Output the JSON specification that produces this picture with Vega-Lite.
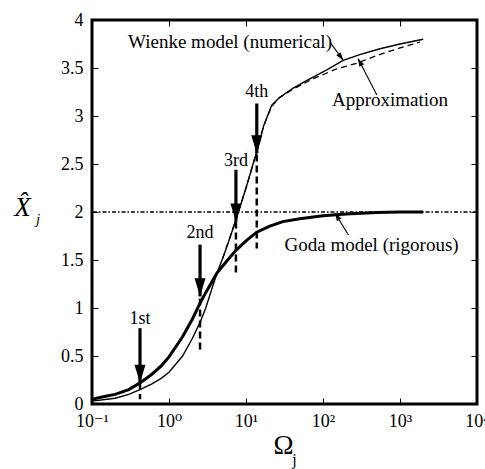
{
  "$schema": "https://vega.github.io/schema/vega-lite/v6.json",
  "width": 385,
  "height": 384,
  "autosize": {"type": "none"},
  "padding": {"left": 92, "top": 20, "right": 8, "bottom": 65},
  "background": "white",
  "config": {
    "view": {"stroke": "black", "strokeWidth": 3},
    "font": "'Liberation Serif', 'Times New Roman', 'DejaVu Serif', serif",
    "axis": {
      "domain": false, "grid": false, "ticks": true, "tickColor": "black", "tickSize": -6, "tickWidth": 1,
      "labelFont": "'Liberation Serif', 'Times New Roman', 'DejaVu Serif', serif", "labelFontSize": 18, "labelColor": "black",
      "titleFont": "'Liberation Serif', 'Times New Roman', 'DejaVu Serif', serif", "titleColor": "black", "titleFontWeight": "normal",
      "labelFlush": false, "labelOverlap": false
    }
  },
  "datasets": {
    "goda": [
      {"omega": 0.1, "val": 0.05}, {"omega": 0.15, "val": 0.08}, {"omega": 0.2, "val": 0.1},
      {"omega": 0.3, "val": 0.15}, {"omega": 0.42, "val": 0.22}, {"omega": 0.6, "val": 0.31},
      {"omega": 0.8, "val": 0.4}, {"omega": 1.0, "val": 0.49}, {"omega": 1.5, "val": 0.7},
      {"omega": 2.0, "val": 0.88}, {"omega": 2.53, "val": 1.05}, {"omega": 3.0, "val": 1.16},
      {"omega": 4.17, "val": 1.36}, {"omega": 5.0, "val": 1.44}, {"omega": 7.4, "val": 1.6},
      {"omega": 10, "val": 1.7}, {"omega": 13.8, "val": 1.79}, {"omega": 20, "val": 1.85},
      {"omega": 30, "val": 1.9}, {"omega": 50, "val": 1.93}, {"omega": 100, "val": 1.96},
      {"omega": 200, "val": 1.98}, {"omega": 500, "val": 1.995}, {"omega": 1000, "val": 2.0},
      {"omega": 2000, "val": 2.0}
    ],
    "wienke": [
      {"omega": 0.1, "val": 0.03}, {"omega": 0.2, "val": 0.06}, {"omega": 0.3, "val": 0.1},
      {"omega": 0.42, "val": 0.15}, {"omega": 0.6, "val": 0.21}, {"omega": 0.8, "val": 0.27},
      {"omega": 1.0, "val": 0.33}, {"omega": 1.5, "val": 0.5}, {"omega": 2.0, "val": 0.68},
      {"omega": 2.53, "val": 0.85}, {"omega": 3.0, "val": 1.0}, {"omega": 4.17, "val": 1.36},
      {"omega": 5.0, "val": 1.52}, {"omega": 6.0, "val": 1.7}, {"omega": 7.4, "val": 1.92},
      {"omega": 10, "val": 2.25}, {"omega": 13.8, "val": 2.63}, {"omega": 17, "val": 2.9},
      {"omega": 21.5, "val": 3.11}, {"omega": 27, "val": 3.19}, {"omega": 41, "val": 3.29},
      {"omega": 62, "val": 3.37}, {"omega": 112, "val": 3.48}, {"omega": 183, "val": 3.58},
      {"omega": 300, "val": 3.64}, {"omega": 550, "val": 3.7}, {"omega": 1000, "val": 3.75},
      {"omega": 2000, "val": 3.8}
    ],
    "approx": [
      {"omega": 5.0, "val": 1.52}, {"omega": 7.4, "val": 1.92}, {"omega": 10, "val": 2.25},
      {"omega": 13.8, "val": 2.63}, {"omega": 17, "val": 2.9}, {"omega": 21.5, "val": 3.1},
      {"omega": 27, "val": 3.19}, {"omega": 41, "val": 3.28}, {"omega": 75, "val": 3.39},
      {"omega": 150, "val": 3.49}, {"omega": 275, "val": 3.55}, {"omega": 500, "val": 3.63},
      {"omega": 1000, "val": 3.71}, {"omega": 1820, "val": 3.77}
    ],
    "level": [{"val": 2}],
    "arrows": [
      {"label": "1st", "omega": 0.42, "top": 0.79, "tip": 0.22, "labelY": 0.89},
      {"label": "2nd", "omega": 2.53, "top": 1.66, "tip": 1.12, "labelY": 1.78},
      {"label": "3rd", "omega": 7.4, "top": 2.44, "tip": 1.9, "labelY": 2.53},
      {"label": "4th", "omega": 13.8, "top": 3.13, "tip": 2.61, "labelY": 3.25}
    ],
    "dashes": [
      {"omega": 0.42, "val": 0.22, "val2": 0.05},
      {"omega": 2.53, "val": 1.1, "val2": 0.55},
      {"omega": 7.4, "val": 1.9, "val2": 1.34},
      {"omega": 13.8, "val": 2.6, "val2": 1.62}
    ],
    "notes": [
      {"text": "Wienke model (numerical)", "omega": 6.2, "val": 3.77},
      {"text": "Approximation", "omega": 741, "val": 3.17},
      {"text": "Goda model (rigorous)", "omega": 427, "val": 1.66}
    ],
    "pointers": [
      {"target": "W", "omega": 123, "val": 3.77, "omega2": 183, "val2": 3.58},
      {"target": "A", "omega": 500, "val": 3.22, "omega2": 285, "val2": 3.6},
      {"target": "G", "omega": 214, "val": 1.76, "omega2": 143, "val2": 1.99}
    ]
  },
  "resolve": {"axis": {"x": "independent", "y": "independent"}},
  "layer": [
    {
      "data": {"name": "level"},
      "mark": {"type": "rule", "color": "black", "strokeWidth": 1.5, "strokeDash": [4, 2, 1.5, 2]},
      "encoding": {
        "y": {"field": "val", "type": "quantitative", "scale": {"domain": [0, 4], "nice": false}, "axis": null}
      }
    },
    {
      "data": {"name": "goda"},
      "mark": {"type": "line", "color": "black", "strokeWidth": 3, "clip": true},
      "encoding": {
        "x": {"field": "omega", "type": "quantitative", "scale": {"type": "log", "domain": [0.1, 10000], "nice": false},
          "axis": {"orient": "bottom", "values": [0.1, 1, 10, 100, 1000, 10000],
            "labelExpr": "datum.value < 0.5 ? '10⁻¹' : datum.value < 5 ? '10⁰' : datum.value < 50 ? '10¹' : datum.value < 500 ? '10²' : datum.value < 5000 ? '10³' : '10⁴'",
            "labelPadding": 14, "title": "Ω", "titleFontSize": 27, "titleX": 191, "titleY": 49,
            "titleAlign": "center", "titleBaseline": "alphabetic", "titleAngle": 0}},
        "y": {"field": "val", "type": "quantitative", "scale": {"domain": [0, 4], "nice": false},
          "axis": {"orient": "left", "values": [0, 0.5, 1, 1.5, 2, 2.5, 3, 3.5, 4], "format": "~g",
            "labelPadding": 15, "title": "X̂", "titleFontSize": 27, "titleFontStyle": "italic",
            "titleAngle": 0, "titleX": -70, "titleY": 195, "titleAlign": "center", "titleBaseline": "alphabetic"}}
      }
    },
    {
      "data": {"name": "wienke"},
      "mark": {"type": "line", "color": "black", "strokeWidth": 1.4, "clip": true},
      "encoding": {
        "x": {"field": "omega", "type": "quantitative", "scale": {"type": "log", "domain": [0.1, 10000], "nice": false},
          "axis": {"orient": "top", "values": [0.1, 1, 10, 100, 1000, 10000], "labels": false,
            "title": "j", "titleFontSize": 16, "titleX": 202, "titleY": 444,
            "titleAlign": "center", "titleBaseline": "alphabetic", "titleAngle": 0}},
        "y": {"field": "val", "type": "quantitative", "scale": {"domain": [0, 4], "nice": false},
          "axis": {"orient": "right", "values": [0, 0.5, 1, 1.5, 2, 2.5, 3, 3.5, 4], "labels": false,
            "title": "j", "titleFontSize": 15, "titleFontStyle": "italic", "titleAngle": 0,
            "titleX": -439.5, "titleY": 203, "titleAlign": "center", "titleBaseline": "alphabetic"}}
      }
    },
    {
      "data": {"name": "approx"},
      "mark": {"type": "line", "color": "black", "strokeWidth": 1.3, "strokeDash": [6, 4], "clip": true},
      "encoding": {
        "x": {"field": "omega", "type": "quantitative", "scale": {"type": "log", "domain": [0.1, 10000], "nice": false}, "axis": null},
        "y": {"field": "val", "type": "quantitative", "scale": {"domain": [0, 4], "nice": false}, "axis": null}
      }
    },
    {
      "data": {"name": "dashes"},
      "mark": {"type": "rule", "color": "black", "strokeWidth": 2.5, "strokeDash": [7, 4]},
      "encoding": {
        "x": {"field": "omega", "type": "quantitative", "scale": {"type": "log", "domain": [0.1, 10000], "nice": false}, "axis": null},
        "y": {"field": "val", "type": "quantitative", "scale": {"domain": [0, 4], "nice": false}, "axis": null},
        "y2": {"field": "val2"}
      }
    },
    {
      "data": {"name": "arrows"},
      "mark": {"type": "rule", "color": "black", "strokeWidth": 3.2},
      "encoding": {
        "x": {"field": "omega", "type": "quantitative", "scale": {"type": "log", "domain": [0.1, 10000], "nice": false}, "axis": null},
        "y": {"field": "top", "type": "quantitative", "scale": {"domain": [0, 4], "nice": false}, "axis": null},
        "y2": {"field": "tip"}
      }
    },
    {
      "data": {"name": "arrows"},
      "mark": {"type": "point", "shape": "M-1,-3.3L1,-3.3L0,0Z", "filled": true, "color": "black", "opacity": 1, "size": 121, "strokeWidth": 0},
      "encoding": {
        "x": {"field": "omega", "type": "quantitative", "scale": {"type": "log", "domain": [0.1, 10000], "nice": false}, "axis": null},
        "y": {"field": "tip", "type": "quantitative", "scale": {"domain": [0, 4], "nice": false}, "axis": null}
      }
    },
    {
      "data": {"name": "arrows"},
      "mark": {"type": "text", "font": "'Liberation Serif', 'Times New Roman', 'DejaVu Serif', serif", "fontSize": 18, "color": "black", "align": "center", "baseline": "middle"},
      "encoding": {
        "x": {"field": "omega", "type": "quantitative", "scale": {"type": "log", "domain": [0.1, 10000], "nice": false}, "axis": null},
        "y": {"field": "labelY", "type": "quantitative", "scale": {"domain": [0, 4], "nice": false}, "axis": null},
        "text": {"field": "label"}
      }
    },
    {
      "data": {"name": "notes"},
      "mark": {"type": "text", "font": "'Liberation Serif', 'Times New Roman', 'DejaVu Serif', serif", "fontSize": 19, "color": "black", "align": "center", "baseline": "middle"},
      "encoding": {
        "x": {"field": "omega", "type": "quantitative", "scale": {"type": "log", "domain": [0.1, 10000], "nice": false}, "axis": null},
        "y": {"field": "val", "type": "quantitative", "scale": {"domain": [0, 4], "nice": false}, "axis": null},
        "text": {"field": "text"}
      }
    },
    {
      "data": {"name": "pointers"},
      "mark": {"type": "rule", "color": "black", "strokeWidth": 1.1},
      "encoding": {
        "x": {"field": "omega", "type": "quantitative", "scale": {"type": "log", "domain": [0.1, 10000], "nice": false}, "axis": null},
        "y": {"field": "val", "type": "quantitative", "scale": {"domain": [0, 4], "nice": false}, "axis": null},
        "x2": {"field": "omega2"},
        "y2": {"field": "val2"}
      }
    },
    {
      "data": {"name": "pointers"},
      "transform": [{"filter": "datum.target === 'W'"}],
      "mark": {"type": "point", "shape": "M-1,3L0,0L1,3Z", "filled": true, "color": "black", "opacity": 1, "size": 29, "strokeWidth": 0, "angle": 144},
      "encoding": {
        "x": {"field": "omega2", "type": "quantitative", "scale": {"type": "log", "domain": [0.1, 10000], "nice": false}, "axis": null},
        "y": {"field": "val2", "type": "quantitative", "scale": {"domain": [0, 4], "nice": false}, "axis": null}
      }
    },
    {
      "data": {"name": "pointers"},
      "transform": [{"filter": "datum.target === 'A'"}],
      "mark": {"type": "point", "shape": "M-1,3L0,0L1,3Z", "filled": true, "color": "black", "opacity": 1, "size": 29, "strokeWidth": 0, "angle": 333},
      "encoding": {
        "x": {"field": "omega2", "type": "quantitative", "scale": {"type": "log", "domain": [0.1, 10000], "nice": false}, "axis": null},
        "y": {"field": "val2", "type": "quantitative", "scale": {"domain": [0, 4], "nice": false}, "axis": null}
      }
    },
    {
      "data": {"name": "pointers"},
      "transform": [{"filter": "datum.target === 'G'"}],
      "mark": {"type": "point", "shape": "M-1,3L0,0L1,3Z", "filled": true, "color": "black", "opacity": 1, "size": 29, "strokeWidth": 0, "angle": 328},
      "encoding": {
        "x": {"field": "omega2", "type": "quantitative", "scale": {"type": "log", "domain": [0.1, 10000], "nice": false}, "axis": null},
        "y": {"field": "val2", "type": "quantitative", "scale": {"domain": [0, 4], "nice": false}, "axis": null}
      }
    }
  ]
}
